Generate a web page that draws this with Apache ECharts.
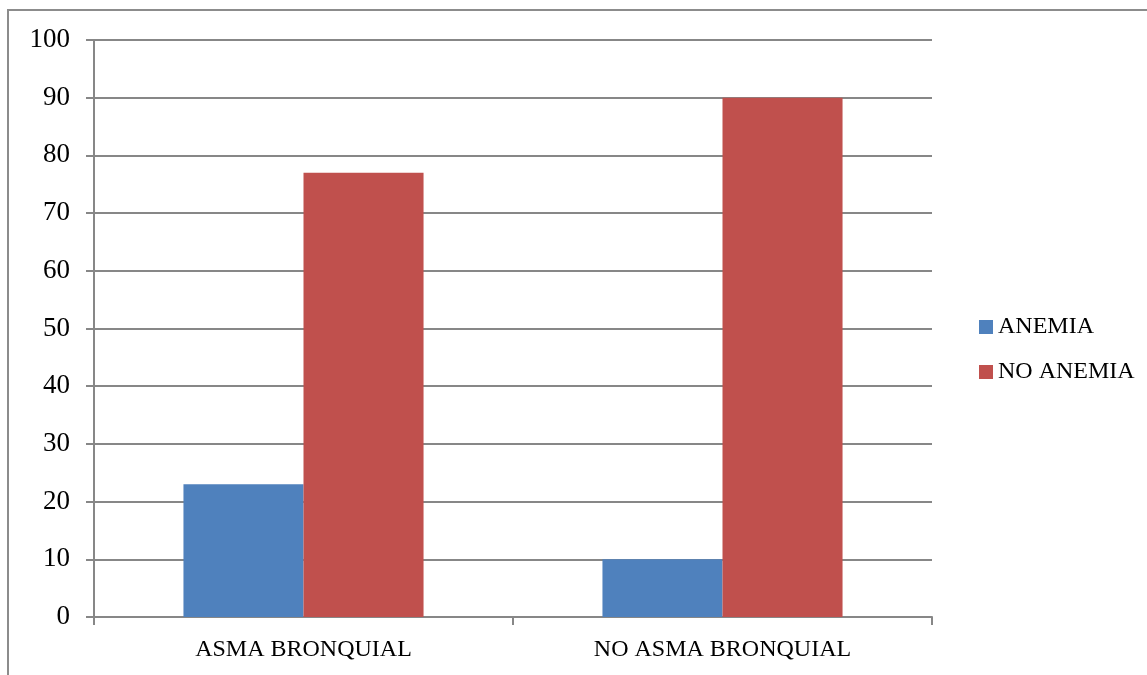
<!DOCTYPE html>
<html>
<head>
<meta charset="utf-8">
<script src="https://cdn.jsdelivr.net/npm/echarts@6/dist/echarts.min.js"></script>
<style>
  html, body { margin: 0; padding: 0; background: #fff; }
  #chart { width: 1147px; height: 675px; }
</style>
</head>
<body>
<div id="chart"></div>
<script>
// Categories and series values
const categories = ['ASMA BRONQUIAL', 'NO ASMA BRONQUIAL'];
const anemia = [23, 10];
const noAnemia = [77, 90];
const seriesNames = ['ANEMIA', 'NO ANEMIA'];

const FONT = 'Liberation Serif';
const GRID = '#878787';

const chart = echarts.init(document.getElementById('chart'), null, { renderer: 'canvas' });

chart.setOption({
  backgroundColor: '#ffffff',
  animation: false,
  textStyle: { fontFamily: FONT, color: '#000' },
  graphic: [{
    type: 'rect',
    shape: { x: 8, y: 10, width: 1300, height: 800 },
    style: { fill: 'none', stroke: '#8c8c8c', lineWidth: 2 },
    silent: true
  }],
  grid: { left: 94, right: 215, top: 40, bottom: 58, containLabel: false },
  legend: {
    orient: 'vertical',
    left: 974,
    top: 310,
    itemWidth: 14,
    itemHeight: 14,
    itemGap: 21,
    icon: 'rect',
    data: seriesNames,
    textStyle: { fontFamily: FONT, fontSize: 24, color: '#000' }
  },
  xAxis: {
    type: 'category',
    data: categories,
    axisLine: { show: true, lineStyle: { color: GRID, width: 2 } },
    axisTick: { show: true, alignWithLabel: false, length: 8, lineStyle: { color: GRID, width: 2 } },
    axisLabel: { fontFamily: FONT, fontSize: 24, color: '#000', margin: 21 },
    splitLine: { show: false }
  },
  yAxis: {
    type: 'value',
    min: 0,
    max: 100,
    interval: 10,
    axisLine: { show: true, lineStyle: { color: GRID, width: 2 } },
    axisTick: { show: true, length: 8, lineStyle: { color: GRID, width: 2 } },
    axisLabel: { fontFamily: FONT, fontSize: 27, color: '#000', margin: 24 },
    splitLine: { show: true, lineStyle: { color: GRID, width: 2 } }
  },
  series: [
    {
      name: seriesNames[0],
      type: 'bar',
      data: anemia,
      barGap: '0%',
      barCategoryGap: '42.7%',
      itemStyle: { color: '#4F81BD' }
    },
    {
      name: seriesNames[1],
      type: 'bar',
      data: noAnemia,
      barGap: '0%',
      barCategoryGap: '42.7%',
      itemStyle: { color: '#C0504D' }
    }
  ]
});
</script>
</body>
</html>
